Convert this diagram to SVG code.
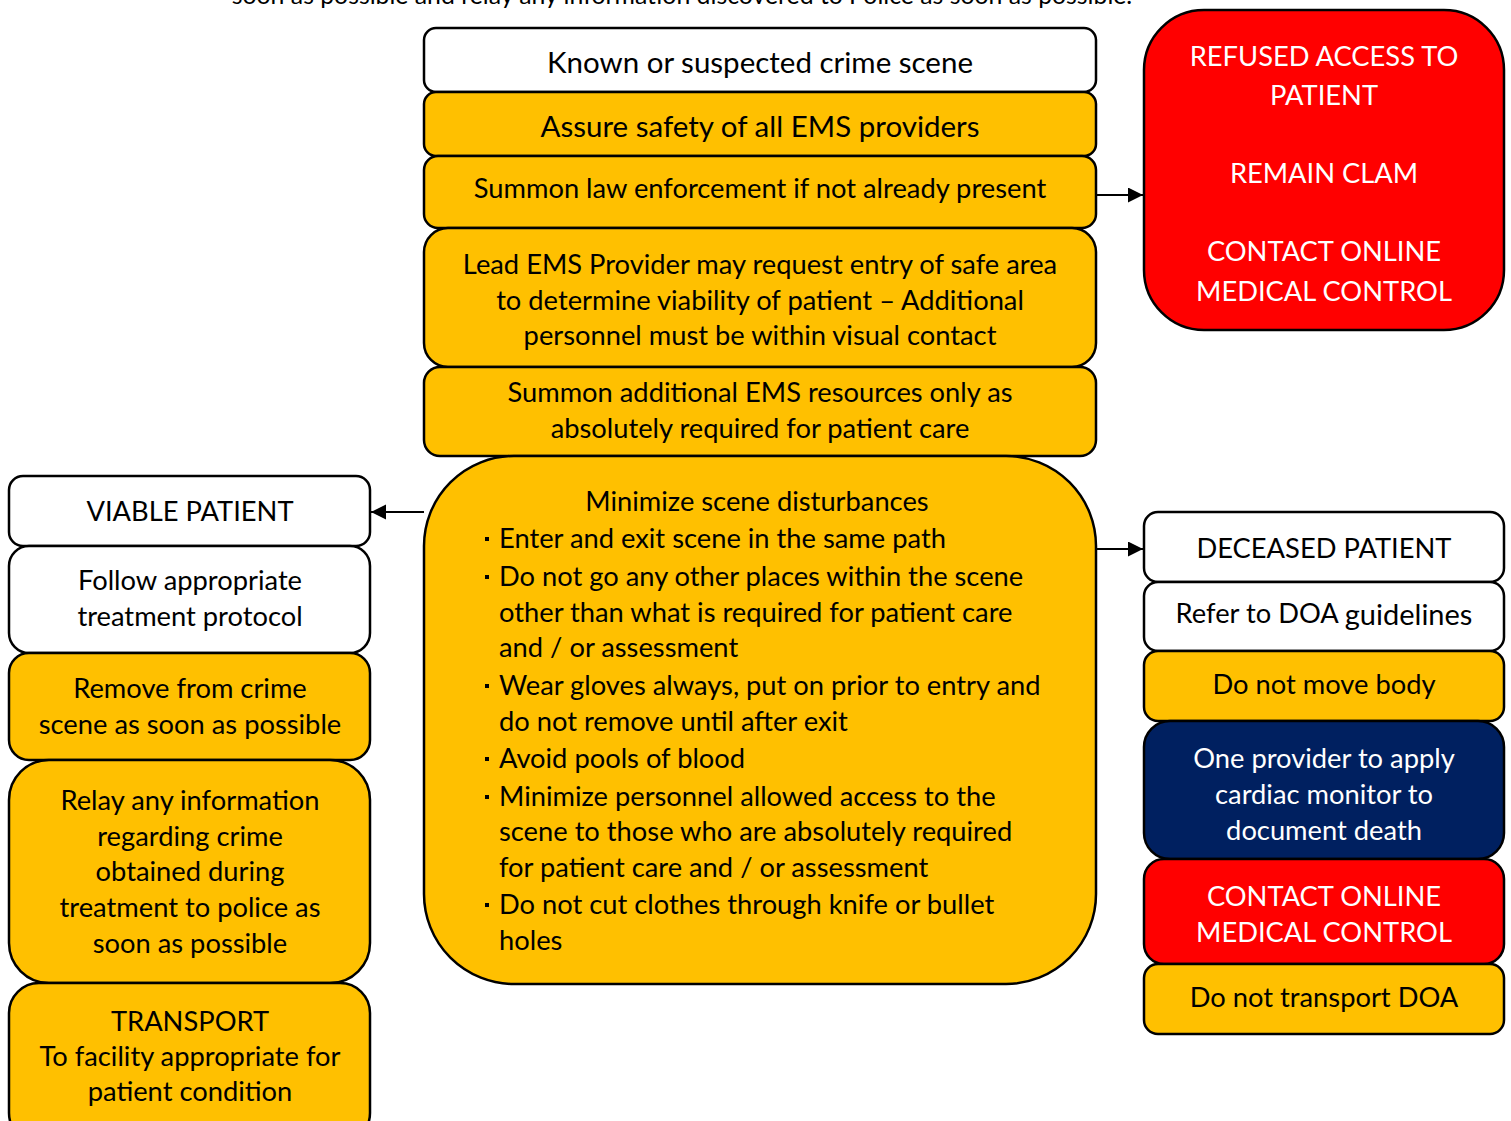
<svg xmlns="http://www.w3.org/2000/svg" width="1511" height="1121" viewBox="0 0 1511 1121">
<defs>
<marker id="ah" markerWidth="16" markerHeight="16" refX="15" refY="7.5" orient="auto" markerUnits="userSpaceOnUse"><path d="M0,0 L15,7.5 L0,15 z" fill="#000"/></marker>
<style>
text{font-family:Lato,"Liberation Sans",sans-serif;font-size:27.3px;text-anchor:middle;dominant-baseline:central;fill:#000;transform:translateY(-1.5px)}
.big{font-size:29.5px}
.top{font-size:24.8px}
.w{fill:#fff}
.l{text-anchor:start}
rect{stroke:#000;stroke-width:2.5}
rect.bu{stroke:none;fill:#000}
.wh{fill:#fff}.y{fill:#FFC000}.r{fill:#FF0000}.n{fill:#002060}
.c{stroke:#000;stroke-width:2;fill:none}
</style>
</defs>
<text class="top" x="682" y="-4">soon as possible and relay any information discovered to Police as soon as possible.</text>
<g id="n1"><rect class="wh" x="424" y="28" width="672" height="64" rx="12"/><text class="big" x="760" y="63">Known or suspected crime scene</text></g>
<g id="n2"><rect class="y" x="424" y="92" width="672" height="64" rx="12"/><text class="big" x="760" y="127">Assure safety of all EMS providers</text></g>
<g id="n3"><rect class="y" x="424" y="156" width="672" height="72" rx="14"/><text x="760" y="189">Summon law enforcement if not already present</text></g>
<g id="n4"><rect class="y" x="424" y="228" width="672" height="139" rx="24"/><text x="760" y="265">Lead EMS Provider may request entry of safe area</text><text x="760" y="301">to determine viability of patient – Additional</text><text x="760" y="336">personnel must be within visual contact</text></g>
<g id="n5"><rect class="y" x="424" y="367" width="672" height="89" rx="16"/><text x="760" y="393">Summon additional EMS resources only as</text><text x="760" y="429">absolutely required for patient care</text></g>
<g id="n6"><rect class="y" x="424" y="456" width="672" height="528" rx="90"/>
<text x="757" y="502">Minimize scene disturbances</text>
<rect class="bu" x="485" y="537" width="4" height="4"/><text class="l" x="499" y="539">Enter and exit scene in the same path</text>
<rect class="bu" x="485" y="575" width="4" height="4"/><text class="l" x="499" y="577">Do not go any other places within the scene</text>
<text class="l" x="499" y="613">other than what is required for patient care</text>
<text class="l" x="499" y="648">and / or assessment</text>
<rect class="bu" x="485" y="684" width="4" height="4"/><text class="l" x="499" y="686">Wear gloves always, put on prior to entry and</text>
<text class="l" x="499" y="722">do not remove until after exit</text>
<rect class="bu" x="485" y="757" width="4" height="4"/><text class="l" x="499" y="759">Avoid pools of blood</text>
<rect class="bu" x="485" y="795" width="4" height="4"/><text class="l" x="499" y="797">Minimize personnel allowed access to the</text>
<text class="l" x="499" y="832">scene to those who are absolutely required</text>
<text class="l" x="499" y="868">for patient care and / or assessment</text>
<rect class="bu" x="485" y="903" width="4" height="4"/><text class="l" x="499" y="905">Do not cut clothes through knife or bullet</text>
<text class="l" x="499" y="941">holes</text>
</g>
<g id="r1"><rect class="r" x="1144" y="10" width="360" height="320" rx="60"/><text class="w" x="1324" y="57">REFUSED ACCESS TO</text><text class="w" x="1324" y="96">PATIENT</text><text class="w" x="1324" y="174">REMAIN CLAM</text><text class="w" x="1324" y="252">CONTACT ONLINE</text><text class="w" x="1324" y="292">MEDICAL CONTROL</text></g>
<g id="d1"><rect class="wh" x="1144" y="512" width="360" height="70" rx="14"/><text x="1324" y="549">DECEASED PATIENT</text></g>
<g id="d2"><rect class="wh" x="1144" y="582" width="360" height="69" rx="14"/><text x="1324" y="614">Refer to DOA <tspan font-size="29px">guidelines</tspan></text></g>
<g id="d3"><rect class="y" x="1144" y="651" width="360" height="70" rx="14"/><text x="1324" y="685">Do not move body</text></g>
<g id="d4"><rect class="n" x="1144" y="721" width="360" height="138" rx="26"/><text class="w" x="1324" y="759">One provider to apply</text><text class="w" x="1324" y="795">cardiac monitor to</text><text class="w" x="1324" y="831">document death</text></g>
<g id="d5"><rect class="r" x="1144" y="859" width="360" height="105" rx="20"/><text class="w" x="1324" y="897">CONTACT ONLINE</text><text class="w" x="1324" y="933">MEDICAL CONTROL</text></g>
<g id="d6"><rect class="y" x="1144" y="964" width="360" height="70" rx="14"/><text x="1324" y="998">Do not transport DOA</text></g>
<g id="v1"><rect class="wh" x="9" y="476" width="361" height="70" rx="14"/><text x="190" y="512">VIABLE PATIENT</text></g>
<g id="v2"><rect class="wh" x="9" y="546" width="361" height="107" rx="20"/><text x="190" y="581">Follow appropriate</text><text x="190" y="617">treatment protocol</text></g>
<g id="v3"><rect class="y" x="9" y="653" width="361" height="107" rx="20"/><text x="190" y="689">Remove from crime</text><text x="190" y="725">scene as soon as possible</text></g>
<g id="v4"><rect class="y" x="9" y="760" width="361" height="223" rx="40"/><text x="190" y="801">Relay any information</text><text x="190" y="837">regarding crime</text><text x="190" y="872">obtained during</text><text x="190" y="908">treatment to police as</text><text x="190" y="944">soon as possible</text></g>
<g id="v5"><rect class="y" x="9" y="983" width="361" height="160" rx="30"/><text x="190" y="1022">TRANSPORT</text><text x="190" y="1057">To facility appropriate for</text><text x="190" y="1092">patient condition</text></g>
<g id="connectors">
<line class="c" x1="1096" y1="195" x2="1143" y2="195" marker-end="url(#ah)"/>
<line class="c" x1="1096" y1="549" x2="1143" y2="549" marker-end="url(#ah)"/>
<line class="c" x1="424" y1="512" x2="371" y2="512" marker-end="url(#ah)"/>
</g>
</svg>
